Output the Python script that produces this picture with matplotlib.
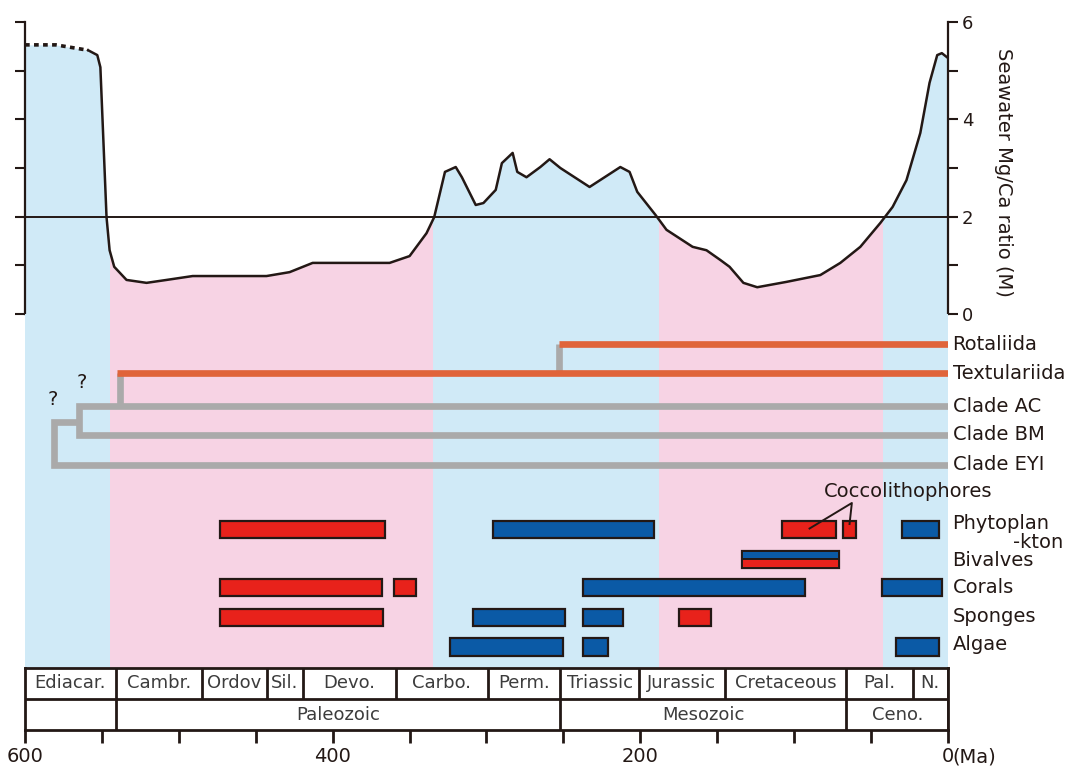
import matplotlib.pyplot as plt
import numpy as np

plt.rcParams['font.family'] = 'DejaVu Sans'

# Seawater Mg/Ca curve (age in Ma, ratio)
age_dotted = [600, 580, 559]
mgca_dotted = [5.53, 5.53, 5.42]
age = [559, 553, 551, 547, 545, 542, 534, 521, 508, 491, 443, 428, 413, 382, 363,
       350, 339, 334, 327, 320, 316, 307, 302, 294, 290, 283, 280, 274, 265, 259,
       252, 233, 213, 207, 202, 190, 183, 166, 157, 148, 142, 133, 124, 105, 83,
       70, 57, 44, 36, 27, 18, 12, 7, 4, 0]
mgca = [5.42, 5.32, 5.07, 1.99, 1.31, 0.97, 0.70, 0.64, 0.70, 0.78, 0.78, 0.86, 1.05, 1.05, 1.05,
        1.19, 1.66, 1.99, 2.92, 3.02, 2.81, 2.24, 2.28, 2.55, 3.10, 3.31, 2.92, 2.81, 3.02, 3.18,
        3.00, 2.61, 3.02, 2.92, 2.51, 2.03, 1.73, 1.38, 1.31, 1.11, 0.97, 0.64, 0.55, 0.66, 0.80,
        1.05, 1.38, 1.87, 2.20, 2.75, 3.72, 4.75, 5.32, 5.36, 5.26]

# aragonite / calcite sea intervals
band_edges = [600, 545, 335, 188, 42, 0]
band_kind = ['arag', 'calc', 'arag', 'calc', 'arag']

# foraminifera lineages
clades = ['Rotaliida', 'Textulariida', 'Clade AC', 'Clade BM', 'Clade EYI']
clade_start = [253, 540, 565, 565, 581]

# skeletal mineralogy of calcifiers: (old, young, mineral)
groups = ['Phytoplankton', 'Bivalves', 'Corals', 'Sponges', 'Algae']
ranges = {
    'Phytoplankton': [(473, 366, 'calc'), (296, 191, 'arag'), (108, 73, 'calc'),
                      (68, 60, 'calc'), (30, 6, 'arag')],
    'Bivalves': [(134, 71, 'mixed')],
    'Corals': [(473, 368, 'calc'), (360, 346, 'calc'), (237, 93, 'arag'), (43, 4, 'arag')],
    'Sponges': [(473, 367, 'calc'), (309, 249, 'arag'), (237, 211, 'arag'), (175, 154, 'calc')],
    'Algae': [(324, 250, 'arag'), (237, 221, 'arag'), (34, 6, 'arag')],
}

# geologic time scale
periods = ['Ediacar.', 'Cambr.', 'Ordov', 'Sil.', 'Devo.', 'Carbo.', 'Perm.',
           'Triassic', 'Jurassic', 'Cretaceous', 'Pal.', 'N.']
period_edges = [600, 541, 485, 443, 419, 359, 299, 252, 201, 145, 66, 23, 0]
eras = ['', 'Paleozoic', 'Mesozoic', 'Ceno.']
era_edges = [600, 541, 252, 66, 0]

dark = '#231815'
band_col = {'arag': '#d0eaf7', 'calc': '#f7d3e4'}
bar_col = {'arag': '#0b5aa6', 'calc': '#e8221b'}
orange = '#e0643a'
grey = '#aaaaaa'

W, H = 1081, 771
fig = plt.figure(figsize=(W / 100, H / 100), dpi=100)


def px_axes(l, t, r, b):
    return fig.add_axes([l / W, 1 - b / H, (r - l) / W, (b - t) / H])


ax_top = px_axes(25, 22, 948, 314)
ax_low = px_axes(25, 314, 948, 668)
ax_ts = px_axes(25, 668, 948, 730)

# ---- Mg/Ca curve ----
for i, k in enumerate(band_kind):
    ax_top.axvspan(band_edges[i], band_edges[i + 1], color=band_col[k], lw=0)
all_age = age_dotted + age[1:]
all_mg = mgca_dotted + mgca[1:]
ax_top.fill_between(all_age, all_mg, 7, color='white', lw=0)
ax_top.axhline(2, color=dark, lw=1.4)
ax_top.plot(age, mgca, color=dark, lw=1.8, solid_joinstyle='round')
ax_top.plot(age_dotted, mgca_dotted, color=dark, lw=2.6, ls=(0, (1.3, 1.2)))
ax_top.set_xlim(600, 0)
ax_top.set_ylim(0, 6)
ax_top.set_xticks([])
ax_top.set_yticks([0, 2, 4, 6])
ax_top.set_yticks([1, 3, 5], minor=True)
for s in ['top', 'bottom']:
    ax_top.spines[s].set_visible(False)
for s in ['left', 'right']:
    ax_top.spines[s].set_linewidth(1.6)
    ax_top.spines[s].set_color(dark)
ax_top.tick_params(axis='y', which='both', left=True, right=True, labelleft=False,
                   labelright=True, direction='out', length=7, width=1.5,
                   color=dark, labelsize=13, labelcolor=dark, pad=3)
fig.text(1003 / W, 1 - 172 / H, 'Seawater Mg/Ca ratio (M)', rotation=270,
         ha='center', va='center', fontsize=14, color=dark)

# ---- lower panel ----
for i, k in enumerate(band_kind):
    ax_low.axvspan(band_edges[i], band_edges[i + 1], color=band_col[k], lw=0)
ax_low.set_xlim(600, 0)
ax_low.set_ylim(11.8, 0)
ax_low.axis('off')

tree_rows = [1.0, 1.97, 3.07, 4.03, 5.03]
lw_tree = 4.8
# grey connectors first
ax_low.plot([clade_start[0]] * 2, [tree_rows[0], tree_rows[1]], color=grey, lw=lw_tree,
            solid_capstyle='butt')
ax_low.plot([clade_start[1] - 1.5] * 2, [tree_rows[1], tree_rows[2]], color=grey, lw=lw_tree,
            solid_capstyle='butt')
ax_low.plot([0, clade_start[2], clade_start[3], 0],
            [tree_rows[2], tree_rows[2], tree_rows[3], tree_rows[3]],
            color=grey, lw=lw_tree, solid_joinstyle='miter', solid_capstyle='butt')
mid = (tree_rows[2] + tree_rows[3]) / 2 + 0.05
ax_low.plot([clade_start[2], clade_start[4], clade_start[4], 0],
            [mid, mid, tree_rows[4], tree_rows[4]],
            color=grey, lw=lw_tree, solid_joinstyle='miter', solid_capstyle='butt')
for j in range(2):
    ax_low.plot([clade_start[j], 0], [tree_rows[j]] * 2, color=orange, lw=lw_tree,
                solid_capstyle='butt')
for name, r in zip(clades, tree_rows):
    ax_low.text(-3, r, name, ha='left', va='center', fontsize=14, color=dark, clip_on=False)
ax_low.text(582, 2.85, '?', ha='center', va='center', fontsize=14, color=dark)
ax_low.text(563, 2.3, '?', ha='center', va='center', fontsize=14, color=dark)

bar_rows = [7.17, 8.18, 9.13, 10.12, 11.1]
bh = 0.57
for g, r in zip(groups, bar_rows):
    for old, young, k in ranges[g]:
        if k == 'mixed':
            ax_low.barh(r, old - young, left=young, height=bh, color='none',
                        edgecolor=dark, lw=1.6)
            ax_low.barh(r - bh / 4, old - young, left=young, height=bh / 2,
                        color=bar_col['arag'], edgecolor=dark, lw=1.4)
            ax_low.barh(r + bh / 4, old - young, left=young, height=bh / 2,
                        color=bar_col['calc'], edgecolor=dark, lw=1.4)
        else:
            ax_low.barh(r, old - young, left=young, height=bh, color=bar_col[k],
                        edgecolor=dark, lw=1.6)

ax_low.text(-3, 6.97, 'Phytoplan', ha='left', va='center', fontsize=14, color=dark, clip_on=False)
ax_low.text(-75, 7.63, '-kton', ha='right', va='center', fontsize=14, color=dark, clip_on=False)
for g, yl in zip(groups[1:], [8.2, 9.13, 10.1, 11.03]):
    ax_low.text(-3, yl, g, ha='left', va='center', fontsize=14, color=dark, clip_on=False)

# coccolithophores pointer
ax_low.plot([90, 62.5, 64], [7.15, 6.3, 7.0], color=dark, lw=1.4)
ax_low.text(26, 5.93, 'Coccolithophores', ha='center', va='center', fontsize=14,
            color=dark, clip_on=False)

# ---- time scale ----
ax_ts.set_xlim(600, 0)
ax_ts.set_ylim(0, 2)
ax_ts.set_yticks([])
for s in ax_ts.spines.values():
    s.set_linewidth(2)
    s.set_color(dark)
ax_ts.axhline(1, color=dark, lw=2)
for i, p in enumerate(periods):
    ax_ts.vlines(period_edges[i + 1], 1, 2, color=dark, lw=2)
    ax_ts.text((period_edges[i] + period_edges[i + 1]) / 2, 1.5, p, ha='center', va='center',
               fontsize=13, color='#3c3c3c')
for i, e in enumerate(eras):
    ax_ts.vlines(era_edges[i + 1], 0, 1, color=dark, lw=2)
    ax_ts.text((era_edges[i] + era_edges[i + 1]) / 2, 0.5, e, ha='center', va='center',
               fontsize=13, color='#3c3c3c')
ticks = list(range(0, 601, 50))
ax_ts.set_xticks(ticks)
ax_ts.set_xticklabels([str(t) if t % 200 == 0 else '' for t in ticks])
ax_ts.tick_params(axis='x', direction='out', length=9, width=2, color=dark,
                  labelsize=14, labelcolor=dark, pad=3)
ax_ts.text(-3, -0.87, '(Ma)', ha='left', va='center', fontsize=14, color=dark, clip_on=False)

fig.savefig('out.png', dpi=100)
